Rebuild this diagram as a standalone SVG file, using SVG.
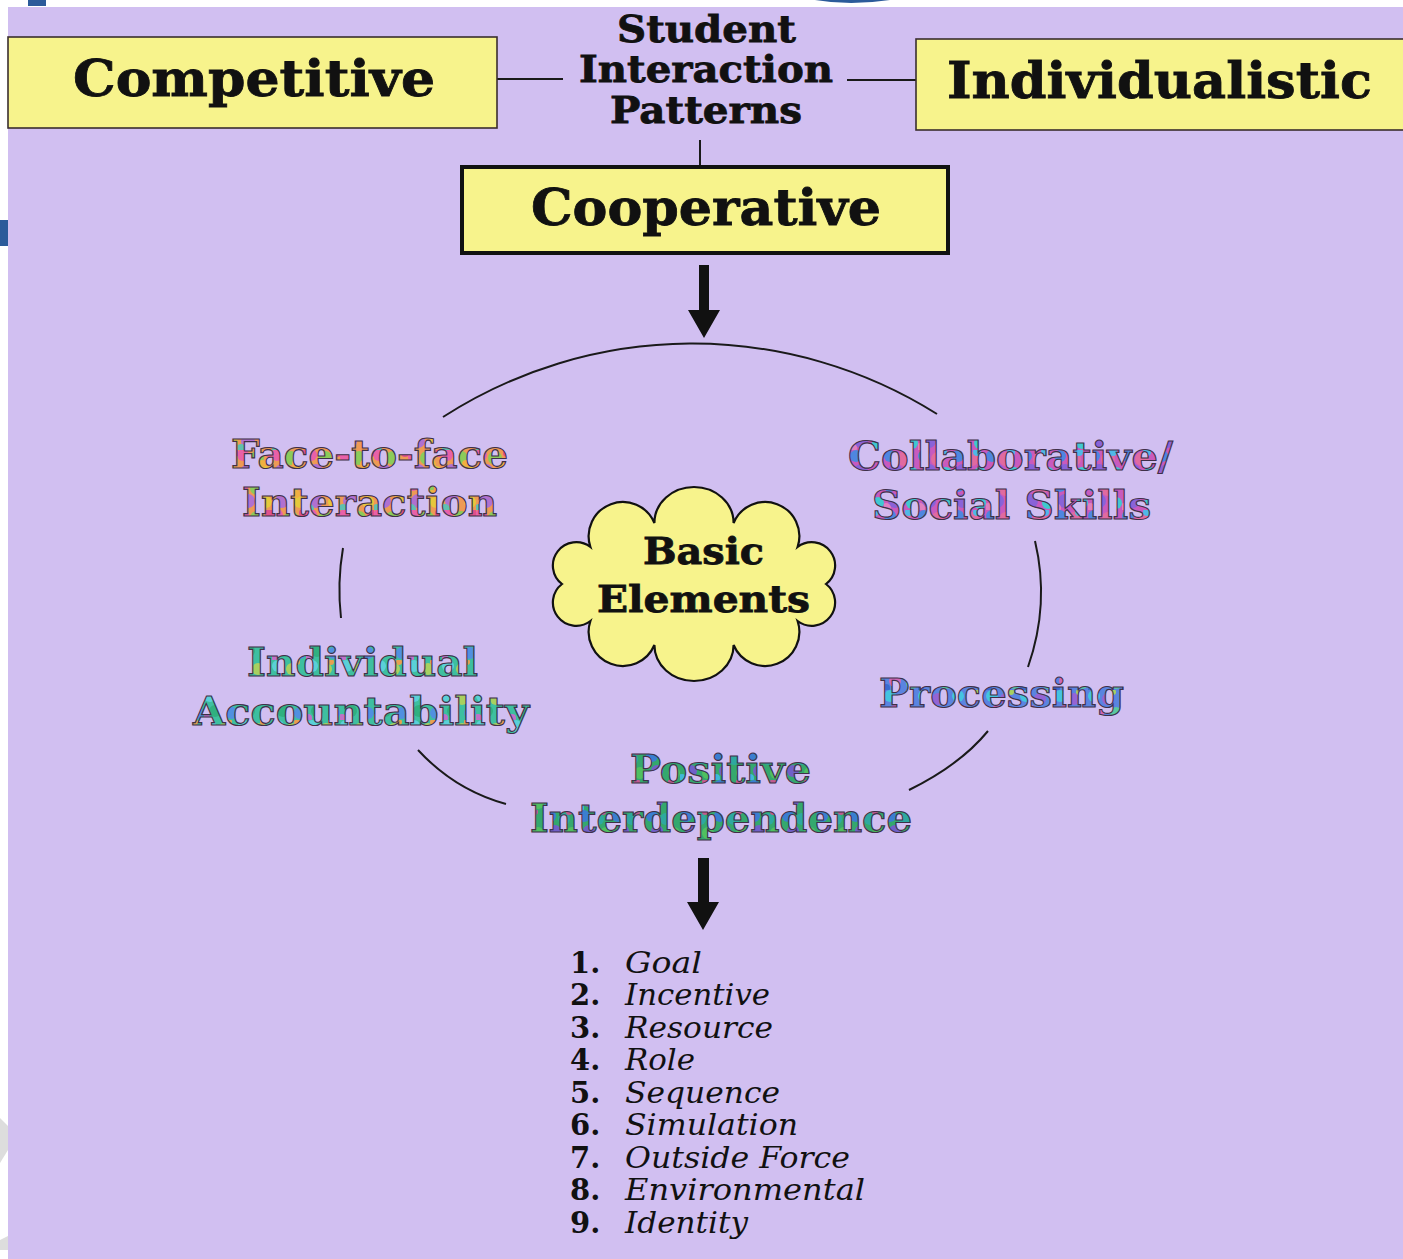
<svg xmlns="http://www.w3.org/2000/svg" width="1403" height="1259" viewBox="0 0 1403 1259">
<style>
.box{fill:#F7F38C;stroke:#3a2e2e;stroke-width:1.6}
.boxk{fill:#F7F38C;stroke:#111;stroke-width:4}
.bt{font-family:"DejaVu Serif",serif;font-weight:bold;fill:#111;stroke:#111;stroke-width:0.8}
.rb{font-family:"DejaVu Serif",serif;font-weight:bold;font-size:40px;stroke:#3f3048;stroke-width:1.1}
.ln{fill:none;stroke:#1a1a1a;stroke-width:2}
.num{font-family:"DejaVu Serif",serif;font-weight:bold;font-size:29px;fill:#111}
.it{font-family:"DejaVu Serif",serif;font-style:italic;font-size:30px;fill:#111}
</style>
<defs>
<pattern id="pWarm" width="34" height="30" patternUnits="userSpaceOnUse">
<rect width="34" height="30" fill="#EE9A55"/>
<circle cx="5" cy="5" r="6" fill="#E860A8"/><circle cx="19" cy="8" r="7" fill="#8CCB5A"/>
<circle cx="28" cy="22" r="6" fill="#E6C83C"/><circle cx="10" cy="21" r="7" fill="#B070D0"/>
<circle cx="24" cy="14" r="4" fill="#F0B040"/><circle cx="3" cy="29" r="5" fill="#60C0B0"/>
<circle cx="31" cy="3" r="4" fill="#E0508A"/>
</pattern>
<pattern id="pMag" width="34" height="30" patternUnits="userSpaceOnUse">
<rect width="34" height="30" fill="#C85ABE"/>
<circle cx="6" cy="6" r="6" fill="#4E86E0"/><circle cx="20" cy="9" r="7" fill="#E06AA0"/>
<circle cx="28" cy="23" r="6" fill="#40C8D0"/><circle cx="11" cy="21" r="7" fill="#8A62D8"/>
<circle cx="25" cy="2" r="4" fill="#50B8E8"/><circle cx="2" cy="28" r="5" fill="#E080C0"/>
</pattern>
<pattern id="pTeal" width="34" height="30" patternUnits="userSpaceOnUse">
<rect width="34" height="30" fill="#3EBFA0"/>
<circle cx="6" cy="6" r="6" fill="#5AD0D8"/><circle cx="20" cy="9" r="6" fill="#A8D060"/>
<circle cx="28" cy="23" r="6" fill="#5090E0"/><circle cx="11" cy="21" r="6" fill="#30B080"/>
<circle cx="25" cy="2" r="3" fill="#E8A050"/><circle cx="2" cy="28" r="4" fill="#C070C8"/>
</pattern>
<pattern id="pGreen" width="34" height="30" patternUnits="userSpaceOnUse">
<rect width="34" height="30" fill="#34A86E"/>
<circle cx="6" cy="6" r="6" fill="#3A7ED0"/><circle cx="20" cy="9" r="6" fill="#2EA8A0"/>
<circle cx="28" cy="23" r="6" fill="#50C060"/><circle cx="11" cy="21" r="6" fill="#7060C8"/>
<circle cx="25" cy="2" r="3" fill="#C05A90"/><circle cx="2" cy="28" r="4" fill="#40B8D8"/>
</pattern>
<pattern id="pBlue" width="34" height="30" patternUnits="userSpaceOnUse">
<rect width="34" height="30" fill="#5A84E0"/>
<circle cx="6" cy="6" r="6" fill="#44C4E0"/><circle cx="20" cy="9" r="6" fill="#9464D4"/>
<circle cx="28" cy="23" r="6" fill="#58C8A0"/><circle cx="11" cy="21" r="6" fill="#D068B8"/>
<circle cx="25" cy="2" r="3" fill="#A8D060"/><circle cx="2" cy="28" r="4" fill="#3A6AD0"/>
</pattern>
</defs>

<rect x="0" y="0" width="1403" height="1259" fill="#ffffff"/>
<rect x="8" y="7" width="1395" height="1252" fill="#D1BFF1"/>
<rect x="28" y="0" width="18" height="6" fill="#2B5A9A"/>
<path d="M815,0 Q850,6 890,0 Z" fill="#2B5A9A"/>
<rect x="0" y="220" width="8" height="26" fill="#2B5A9A"/>
<path d="M0,1118 L8,1126 L8,1150 L0,1163 Z" fill="#DDDDDD"/>
<path d="M0,1240 L8,1236 L8,1250 L0,1250 Z" fill="#DDDDDD"/>

<g id="connectors">
<line class="ln" x1="497" y1="79" x2="563" y2="79"/>
<line class="ln" x1="847" y1="80" x2="916" y2="80"/>
<line class="ln" x1="700" y1="140" x2="700" y2="166"/>
<polygon points="699,265 709,265 709,310 720,310 704,338 688,310 699,310" fill="#111"/>
<path class="ln" d="M443,417 A460,460 0 0 1 937,414"/>
<path class="ln" d="M343,548 Q337,583 341,618"/>
<path class="ln" d="M1035,541 Q1050,604 1028,667"/>
<path class="ln" d="M418,750 Q455,790 506,804"/>
<path class="ln" d="M909,790 Q960,765 988,731"/>
<polygon points="698,858 709,858 709,902 719,902 703,930 687,902 698,902" fill="#111"/>
</g>

<g id="competitive">
<rect class="box" x="8" y="37" width="489" height="91"/>
<text class="bt" x="73" y="96" font-size="50" textLength="362" lengthAdjust="spacingAndGlyphs">Competitive</text>
</g>
<g id="individualistic">
<rect class="box" x="916" y="39" width="490" height="91"/>
<text class="bt" x="947" y="98" font-size="50" textLength="425" lengthAdjust="spacingAndGlyphs">Individualistic</text>
</g>
<g id="student-interaction-patterns">
<text class="bt" x="617" y="42" font-size="37" textLength="179" lengthAdjust="spacingAndGlyphs">Student</text>
<text class="bt" x="579" y="82" font-size="37" textLength="254" lengthAdjust="spacingAndGlyphs">Interaction</text>
<text class="bt" x="610" y="123" font-size="37" textLength="192" lengthAdjust="spacingAndGlyphs">Patterns</text>
</g>
<g id="cooperative">
<rect class="boxk" x="462" y="167" width="486" height="86"/>
<text class="bt" x="531" y="225" font-size="51" textLength="350" lengthAdjust="spacingAndGlyphs">Cooperative</text>
</g>

<g id="basic-elements">
<path d="M826,584 A23.3,23.3 0 0 1 797.6,621 A34.2,34.2 0 0 1 733.6,645 A39.6,36 0 0 1 654.4,645 A34.2,34.2 0 0 1 590.4,621 A23.3,23.3 0 0 1 562,584 A23.3,23.3 0 0 1 590.4,547 A34.2,34.2 0 0 1 654.4,523 A39.6,36 0 0 1 733.6,523 A34.2,34.2 0 0 1 797.6,547 A23.3,23.3 0 0 1 826,584 Z" fill="#F7F38C" stroke="#111" stroke-width="2.2"/>
<text class="bt" x="643" y="564" font-size="37" textLength="121" lengthAdjust="spacingAndGlyphs">Basic</text>
<text class="bt" x="597" y="612" font-size="37" textLength="213" lengthAdjust="spacingAndGlyphs">Elements</text>
</g>

<g id="face-to-face">
<text class="rb" fill="url(#pWarm)" x="231" y="468" textLength="277" lengthAdjust="spacingAndGlyphs">Face-to-face</text>
<text class="rb" fill="url(#pWarm)" x="242" y="516" textLength="255" lengthAdjust="spacingAndGlyphs">Interaction</text>
</g>
<g id="collaborative-social-skills">
<text class="rb" fill="url(#pMag)" x="848" y="470" textLength="325" lengthAdjust="spacingAndGlyphs">Collaborative/</text>
<text class="rb" fill="url(#pMag)" x="872" y="519" textLength="279" lengthAdjust="spacingAndGlyphs">Social Skills</text>
</g>
<g id="individual-accountability">
<text class="rb" fill="url(#pTeal)" x="247" y="676" textLength="231" lengthAdjust="spacingAndGlyphs">Individual</text>
<text class="rb" fill="url(#pTeal)" x="193" y="725" textLength="336" lengthAdjust="spacingAndGlyphs">Accountability</text>
</g>
<g id="processing">
<text class="rb" fill="url(#pBlue)" x="879" y="707" textLength="245" lengthAdjust="spacingAndGlyphs">Processing</text>
</g>
<g id="positive-interdependence">
<text class="rb" fill="url(#pGreen)" x="630" y="783" textLength="181" lengthAdjust="spacingAndGlyphs">Positive</text>
<text class="rb" fill="url(#pGreen)" x="530" y="832" textLength="382" lengthAdjust="spacingAndGlyphs">Interdependence</text>
</g>

<g id="interdependence-types">
<text class="num" x="570" y="973">1.</text><text class="it" x="625" y="973" textLength="77" lengthAdjust="spacingAndGlyphs">Goal</text>
<text class="num" x="570" y="1005">2.</text><text class="it" x="625" y="1005" textLength="145" lengthAdjust="spacingAndGlyphs">Incentive</text>
<text class="num" x="570" y="1038">3.</text><text class="it" x="625" y="1038" textLength="148" lengthAdjust="spacingAndGlyphs">Resource</text>
<text class="num" x="570" y="1070">4.</text><text class="it" x="625" y="1070" textLength="70" lengthAdjust="spacingAndGlyphs">Role</text>
<text class="num" x="570" y="1103">5.</text><text class="it" x="625" y="1103" textLength="155" lengthAdjust="spacingAndGlyphs">Sequence</text>
<text class="num" x="570" y="1135">6.</text><text class="it" x="625" y="1135" textLength="173" lengthAdjust="spacingAndGlyphs">Simulation</text>
<text class="num" x="570" y="1168">7.</text><text class="it" x="625" y="1168" textLength="225" lengthAdjust="spacingAndGlyphs">Outside Force</text>
<text class="num" x="570" y="1200">8.</text><text class="it" x="625" y="1200" textLength="240" lengthAdjust="spacingAndGlyphs">Environmental</text>
<text class="num" x="570" y="1233">9.</text><text class="it" x="625" y="1233" textLength="123" lengthAdjust="spacingAndGlyphs">Identity</text>
</g>
</svg>
